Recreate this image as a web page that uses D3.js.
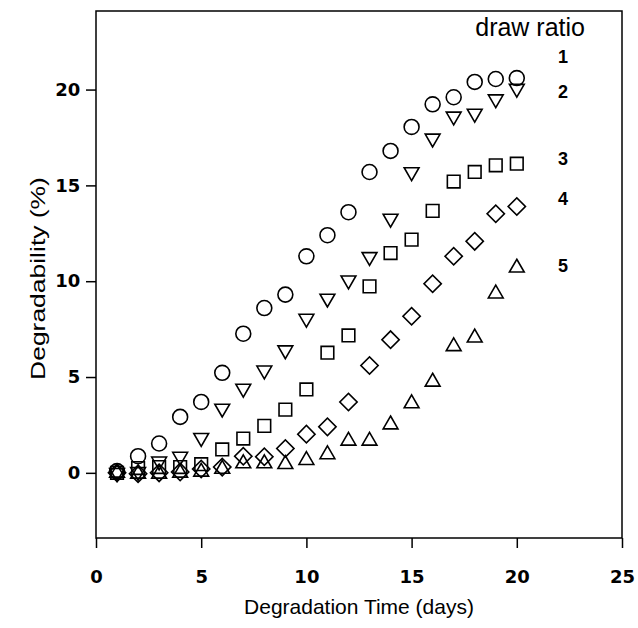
<!DOCTYPE html>
<html>
<head>
<meta charset="utf-8">
<script src="https://cdn.jsdelivr.net/npm/d3@7"></script>
<style>
  body { margin: 0; background: #fff; }
  svg { display: block; font-family: Arial, "Liberation Sans", sans-serif; }
</style>
</head>
<body>
<script>
// degradation time (days)
const days = [1, 2, 3, 4, 5, 6, 7, 8, 9, 10, 11, 12, 13, 14, 15, 16, 17, 18, 19, 20];
// degradability (%) for each draw ratio
const ratio1 = [0.09, 0.87, 1.53, 2.92, 3.7, 5.22, 7.26, 8.6, 9.3, 11.3, 12.4, 13.6, 15.7, 16.8, 18.05, 19.23, 19.6, 20.4, 20.55, 20.6];
const ratio2 = [0.0, 0.05, 0.6, 0.85, 1.83, 3.36, 4.4, 5.35, 6.4, 8.05, 9.1, 10.05, 11.27, 13.27, 15.7, 17.45, 18.6, 18.75, 19.5, 20.05];
const ratio3 = [0.0, 0.25, 0.3, 0.3, 0.45, 1.22, 1.79, 2.45, 3.3, 4.35, 6.27, 7.17, 9.73, 11.47, 12.17, 13.67, 15.2, 15.7, 16.05, 16.13];
const ratio4 = [0.0, -0.05, 0.0, 0.05, 0.2, 0.3, 0.87, 0.84, 1.27, 2.02, 2.4, 3.7, 5.6, 6.95, 8.17, 9.87, 11.3, 12.08, 13.52, 13.9];
const ratio5 = [0.0, -0.05, -0.05, 0.0, 0.05, 0.2, 0.49, 0.49, 0.45, 0.66, 0.96, 1.67, 1.67, 2.52, 3.62, 4.75, 6.6, 7.05, 9.35, 10.7];
const xTicks = [0, 5, 10, 15, 20, 25];
const yTicks = [0, 5, 10, 15, 20];
const seriesNames = ['1', '2', '3', '4', '5'];
// where each ratio label sits (in data units, along the y axis)
const labelYs = [21.75, 19.95, 16.45, 14.35, 10.85];

let width = 638, height = 628;
let margin = { left: 96, right: 16, top: 11, bottom: 90 };

const svg = d3.select('body')
    .append('svg')
    .attr('width', width)
    .attr('height', height)

const xScale = d3.scaleLinear()
    .domain([0, 25])
    .range([margin.left, width - margin.right])
const yScale = d3.scaleLinear()
    .domain([-3.4, 24.1])
    .range([height - margin.bottom, margin.top])

// frame
svg.append('rect')
    .attr('x', margin.left)
    .attr('y', margin.top)
    .attr('width', width - margin.right - margin.left)
    .attr('height', height - margin.bottom - margin.top)
    .attr('fill', 'none')
    .attr('stroke', '#000')
    .attr('stroke-width', 1.5)

const xAxis = d3.axisBottom(xScale).tickValues(xTicks).tickSize(10).tickSizeOuter(0)
const yAxis = d3.axisLeft(yScale).tickValues(yTicks).tickSize(10).tickSizeOuter(0)

const gx = svg.append('g')
    .attr('transform', `translate(0,${height - margin.bottom})`)
    .call(xAxis)
const gy = svg.append('g')
    .attr('transform', `translate(${margin.left},0)`)
    .call(yAxis)

for (const g of [gx, gy]) {
    g.select('.domain').remove()
    g.selectAll('line').attr('stroke', '#000').attr('stroke-width', 1.5)
    g.selectAll('text')
        .attr('fill', '#000')
        .style('font-size', '18px')
        .style('font-weight', 'bold')
        .style('font-family', '"DejaVu Sans", Arial, sans-serif')
}
gx.selectAll('text').attr('dy', '1.75em')
gy.selectAll('text').attr('dx', '-0.15em')

// axis titles
svg.append('text')
    .attr('x', (margin.left + width - margin.right) / 2)
    .attr('y', 614)
    .attr('text-anchor', 'middle')
    .style('font-size', '21px')
    .text('Degradation Time (days)')

// the y title is a bit stretched along its length in the original
svg.append('text')
    .attr('transform', `translate(45,${(margin.top + height - margin.bottom) / 2 + 4}) rotate(-90) scale(1.26,1)`)
    .attr('text-anchor', 'middle')
    .style('font-size', '21px')
    .text('Degradability (%)')

// markers
const allSeries = [ratio1, ratio2, ratio3, ratio4, ratio5];
const symbols = [
    { type: d3.symbolCircle, size: 175, rotate: 0 },
    { type: d3.symbolTriangle, size: 95, rotate: 180 },
    { type: d3.symbolSquare, size: 160, rotate: 0 },
    { type: d3.symbolSquare, size: 150, rotate: 45 },
    { type: d3.symbolTriangle, size: 95, rotate: 0 }
];

allSeries.forEach((vals, s) => {
    const sym = d3.symbol().type(symbols[s].type).size(symbols[s].size)
    svg.append('g')
        .selectAll('path')
        .data(days.map((d, i) => [d, vals[i]]))
        .enter()
        .append('path')
        .attr('d', sym)
        .attr('transform', d => `translate(${xScale(d[0])},${yScale(d[1])}) rotate(${symbols[s].rotate})`)
        .attr('fill', 'none')
        .attr('stroke', '#000')
        .attr('stroke-width', 1.6)
})

// "draw ratio" labels
svg.append('text')
    .attr('x', 585)
    .attr('y', 36)
    .attr('text-anchor', 'end')
    .style('font-size', '25px')
    .text('draw ratio')

svg.selectAll('.ratio')
    .data(seriesNames)
    .enter()
    .append('text')
    .attr('class', 'ratio')
    .attr('x', 563)
    .attr('y', (d, i) => yScale(labelYs[i]) + 7)
    .attr('text-anchor', 'middle')
    .style('font-size', '18px')
    .style('font-weight', 'bold')
    .text(d => d)
</script>
</body>
</html>
